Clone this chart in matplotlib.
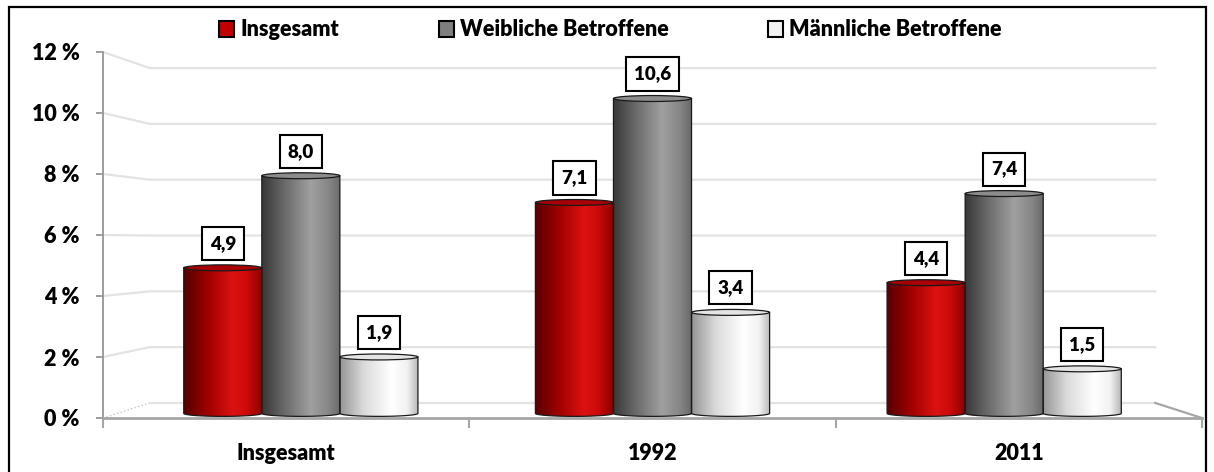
import matplotlib
matplotlib.use("Agg")
import matplotlib.pyplot as plt
import numpy as np
from matplotlib.colors import LinearSegmentedColormap
from matplotlib.patches import Ellipse, PathPatch, Patch, Rectangle
from matplotlib.path import Path

plt.rcParams["font.family"] = ["Lato", "DejaVu Sans"]
plt.rcParams["font.weight"] = "heavy"

categories = ["Insgesamt", "1992", "2011"]
series = ["Insgesamt", "Weibliche Betroffene", "Männliche Betroffene"]
insgesamt = [4.9, 7.1, 4.4]
weiblich = [8.0, 10.6, 7.4]
maennlich = [1.9, 3.4, 1.5]
yticks = [0, 2, 4, 6, 8, 10, 12]

values = [insgesamt, weiblich, maennlich]
gradients = [
    [(0, "#560000"), (0.3, "#a00000"), (0.62, "#dc1212"), (0.8, "#cc0a0a"), (1, "#880000")],
    [(0, "#383838"), (0.3, "#6c6c6c"), (0.62, "#a0a0a0"), (0.85, "#868686"), (1, "#686868")],
    [(0, "#969696"), (0.3, "#dadada"), (0.65, "#ffffff"), (0.85, "#f2f2f2"), (1, "#b4b4b4")],
]
top_colors = ["#a80000", "#8c8c8c", "#e4e4e4"]
legend_colors = ["#c00000", "#7f7f7f", "#f2f2f2"]
fs = 15.5
fw = "heavy"

W, H = 1214, 472
fig = plt.figure(figsize=(W / 100, H / 100), dpi=100)

# front plane of the 3d box, in pixels
left, right, bottom, top = 103, 1202, 418, 52
ax = fig.add_axes([left / W, 1 - bottom / H, (right - left) / W, (bottom - top) / H])
ax.set_xlim(0, 3)
ax.set_ylim(0, 12)

# perspective helpers (data units of the front axes)
cx, cy = 1.5, 5.8
def plane(x, y, sx, sy):
    return cx + sx * (np.asarray(x) - cx), cy + sy * (np.asarray(y) - cy)

s_back = 0.915
grid_c = "#e3e3e3"
for v in yticks:
    bx, by = plane([0, 0, 3], [v, v, v], s_back, s_back)
    xs = [0, bx[0], bx[2]]
    ys = [v, by[0], by[2]]
    if v == 0:
        ax.plot(xs[:2], ys[:2], color="#c8c8c8", lw=1, ls=":", clip_on=False)
        ax.plot(xs[1:], ys[1:], color=grid_c, lw=1.6, clip_on=False)
    else:
        ax.plot(xs, ys, color=grid_c, lw=1.6, clip_on=False)
bx, by = plane([3], [0], s_back, s_back)
ax.plot([bx[0], 3], [by[0], 0], color="#a6a6a6", lw=1.6, clip_on=False)

for side in ["top", "right"]:
    ax.spines[side].set_visible(False)
ax.spines["left"].set_color("#8c8c8c")
ax.spines["left"].set_linewidth(1.2)
ax.spines["bottom"].set_color("#a6a6a6")
ax.spines["bottom"].set_linewidth(2)
ax.set_yticks(yticks)
ax.set_yticklabels([f"{v} %" for v in yticks], fontsize=fs, fontweight=fw)
ax.tick_params(axis="y", length=5, color="#8c8c8c", width=1.2, pad=12)
ax.set_xticks([0, 1, 2, 3], minor=True)
ax.tick_params(axis="x", which="minor", length=7, color="#a6a6a6", width=1.5)
ax.set_xticks(np.arange(3) + 0.5)
ax.set_xticklabels(categories, fontsize=fs, fontweight=fw)
ax.tick_params(axis="x", which="major", length=0, pad=18)
ax.set_facecolor("none")

# mid plane where the cylinders stand
sx_mid, sy_mid = 0.96, 0.974
mx, my = plane([0, 3], [0, 12], sx_mid, sy_mid)
to_px_x = lambda x: left + x * (right - left) / 3
to_px_y = lambda y: bottom - y * (bottom - top) / 12
px0, px1 = to_px_x(mx[0]), to_px_x(mx[1])
py0, py1 = to_px_y(my[0]), to_px_y(my[1])
bax = fig.add_axes([px0 / W, 1 - py0 / H, (px1 - px0) / W, (py0 - py1) / H])
bax.axis("off")

bw = 0.222
eh = 0.2
t = np.linspace(0, np.pi, 40)
for j, vals in enumerate(values):
    cmap = LinearSegmentedColormap.from_list(f"c{j}", gradients[j])
    grad = np.linspace(0, 1, 256).reshape(1, -1)
    for i, v in enumerate(vals):
        xc = i + 0.5 + (j - 1) * bw
        x0, x1 = xc - bw / 2, xc + bw / 2
        bx_ = xc - (bw / 2) * np.cos(t)
        by_ = -(eh / 2) * np.sin(t)
        verts = [(x0, v)] + list(zip(bx_, by_)) + [(x1, v), (x0, v)]
        codes = [Path.MOVETO] + [Path.LINETO] * (len(verts) - 2) + [Path.CLOSEPOLY]
        body = PathPatch(Path(verts, codes), facecolor="none", edgecolor="#1a1a1a",
                         lw=0.9, clip_on=False, zorder=3)
        bax.add_patch(body)
        im = bax.imshow(grad, cmap=cmap, extent=[x0, x1, -eh, v], aspect="auto",
                        interpolation="bicubic", zorder=2)
        im.set_clip_box(fig.bbox)
        im.set_clip_path(body)
        bax.add_patch(Ellipse((xc, v), bw, eh, facecolor=top_colors[j],
                              edgecolor="#1a1a1a", lw=0.9, clip_on=False, zorder=4))
        bax.annotate(f"{v:.1f}".replace(".", ","), (xc, v), xytext=(0, 16),
                     textcoords="offset pixels", ha="center", va="bottom",
                     fontsize=13.5, fontweight=fw, zorder=5,
                     bbox=dict(boxstyle="square,pad=0.43", fc="white", ec="black", lw=1.5))
bax.set_xlim(0, 3)
bax.set_ylim(0, 12)

handles = [Patch(facecolor=c, edgecolor="black", lw=1.5) for c in legend_colors]
fig.legend(handles, series, loc="center", bbox_to_anchor=(0.503, 1 - 30 / H), ncol=3,
           frameon=False, handlelength=0.7, handleheight=0.7, handletextpad=0.3,
           columnspacing=4.6, prop=dict(size=fs, weight=fw))

fig.patches.append(Rectangle((9 / W, -0.02), 1197 / W, 1.02 - 7 / H, transform=fig.transFigure,
                             fill=False, edgecolor="black", lw=1.6))

fig.savefig("out.png", dpi=100)
